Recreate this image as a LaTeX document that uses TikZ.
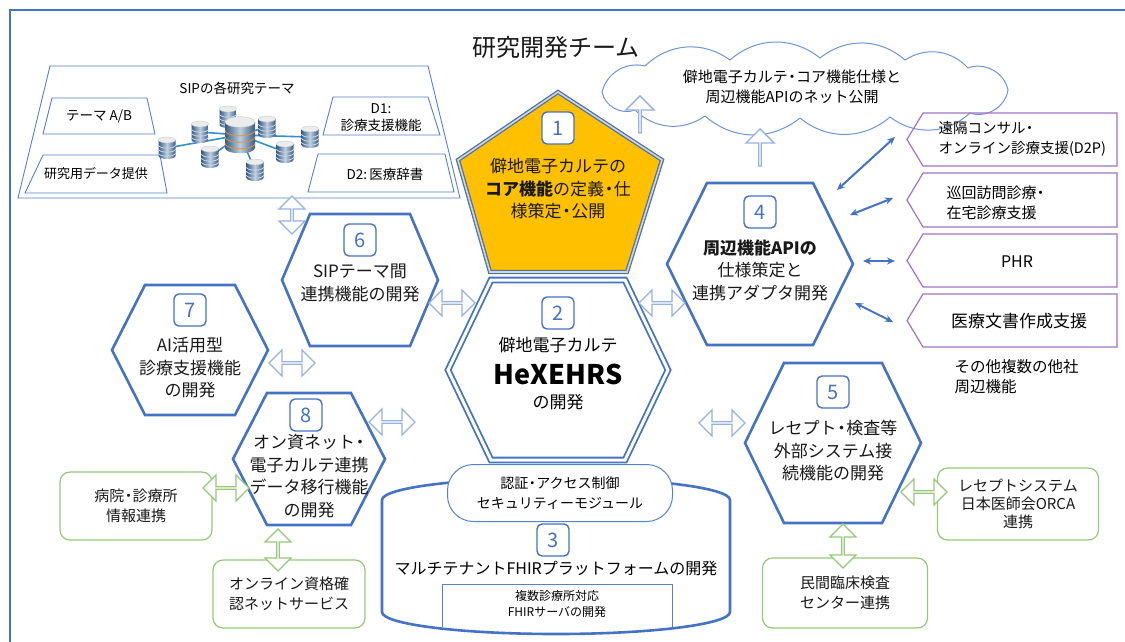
\documentclass[tikz,border=0pt]{standalone}
\usepackage{fontspec}
\setmainfont{Noto Sans CJK JP}
\usetikzlibrary{shapes.geometric, shapes.arrows, arrows.meta, positioning, calc}
\definecolor{hexblue}{RGB}{68, 114, 196}
\definecolor{linkblue}{RGB}{150, 178, 224}
\definecolor{coreorange}{RGB}{255, 192, 0}
\definecolor{corerim}{RGB}{222, 214, 180}
\definecolor{apipurple}{RGB}{160, 115, 200}
\definecolor{extgreen}{RGB}{150, 200, 120}
\definecolor{cloudblue}{RGB}{110, 150, 215}
\definecolor{dbsteel}{RGB}{70, 115, 165}
\definecolor{dbcopper}{RGB}{220, 150, 60}
\definecolor{darktext}{RGB}{25, 25, 25}

\newcommand{\fsz}[2]{\fontsize{#1}{#2}\selectfont}
% narrow middle dot
\newcommand{\nkg}{\kern-0.22em・\kern-0.22em}
% flat-topped hexagon: centre x, centre y, half width, half height, half top edge
\newcommand{\hexa}[6][]{%
  \draw[hexline, #1] ({#2-#6},{#3-#5}) -- ({#2+#6},{#3-#5}) -- ({#2+#4},#3)
    -- ({#2+#6},{#3+#5}) -- ({#2-#6},{#3+#5}) -- ({#2-#4},#3) -- cycle;}
% small database drum: x, y, radius, half height, band colour
\newcommand{\dbcyl}[5]{%
  \shade[left color=dbsteel!80!black, right color=dbsteel!80!black, middle color=dbsteel!35!white]
    ({#1-#3},{#2-#4}) -- ({#1+#3},{#2-#4}) -- ({#1+#3},{#2+#4})
    arc[start angle=0, end angle=180, x radius=#3, y radius=0.35*#3] -- cycle;
  \foreach \k in {-0.35, 0.15, 0.65}
    \draw[#5, line width=0.8pt] ({#1-#3},{#2+\k*#4}) arc[start angle=180, end angle=0, x radius=#3, y radius=0.35*#3];
  \fill[gray!15] (#1,{#2-#4}) ellipse ({#3} and {0.35*#3});
  \draw[gray!50, line width=0.3pt] (#1,{#2-#4}) ellipse ({#3} and {0.35*#3});}

\begin{document}
\begin{tikzpicture}[x=1pt, y=-1pt,
  hexline/.style={draw=hexblue, line width=2.6pt, line join=miter, fill=white},
  sipline/.style={draw=hexblue!90, line width=0.9pt, line join=miter},
  numbox/.style={draw=hexblue, line width=1.4pt, fill=white, rounded corners=5pt,
                 minimum size=32pt, inner sep=0pt, text=hexblue, font=\fsz{20}{20}},
  hextext/.style={align=center, text=darktext, font=\fsz{17}{22.5}},
  linkarrow/.style={double arrow, draw=linkblue, line width=1.3pt, fill=white,
                    minimum height=46pt, minimum width=26pt, double arrow head extend=6pt, inner sep=0pt},
  extarrow/.style={linkarrow, draw=extgreen},
  uparrow/.style={single arrow, draw=linkblue, line width=1.3pt, fill=white, shape border rotate=90,
                  minimum height=37pt, minimum width=28pt, single arrow head extend=7pt, inner sep=0pt},
  extbox/.style={draw=extgreen, line width=1.2pt, rounded corners=10pt, fill=white,
                 align=center, text=darktext, font=\fsz{15}{20}},
  apibox/.style={draw=apipurple, line width=1.2pt, line join=miter},
  apiarrow/.style={draw=hexblue, line width=2pt, {Stealth[length=8pt,width=7pt]}-{Stealth[length=8pt,width=7pt]}},
  dbline/.style={draw=hexblue!80!cyan, line width=1.6pt},
  cloudline/.style={draw=cloudblue, line width=1pt, fill=white}
]
\useasboundingbox (0,0) rectangle (1125,641);
\fill[white] (0,0) rectangle (1125,641);
\draw[hexblue, line width=2.6pt] (10,10) rectangle (1150,670);

\node[font=\fsz{24}{28}, text=darktext] (team) at (556,47) {研究開発チーム};

% SIP research themes
\draw[sipline, fill=white] (50,66) -- (428,66) -- (460,198) -- (18,198) -- cycle;
\node[font=\fsz{13.5}{16}] (sip) at (237,88) {SIPの各研究テーマ};
\draw[sipline] (52,98) -- (147,98) -- (155,134) -- (43,134) -- cycle;
\node[font=\fsz{13.5}{16}] (themeab) at (99,116) {テーマ A/B};
\draw[sipline] (43,155) -- (160,155) -- (167,193) -- (25,193) -- cycle;
\node[font=\fsz{13}{16}] (dataprov) at (96,174) {研究用データ提供};
\draw[sipline] (333,97) -- (428,97) -- (440,135) -- (323,135) -- cycle;
\node[font=\fsz{13.5}{17}, align=center] (dxsupport) at (381,118) {D1:\\診療支援機能};
\draw[sipline] (318,154) -- (445,154) -- (454,192) -- (308,192) -- cycle;
\node[font=\fsz{13.5}{16}] (dict) at (385,174) {D2:\,医療辞書};

% database cluster
\coordinate (dbhub) at (240,135);
\foreach \px/\py in {228/117, 200/132, 167/148, 210/157, 255/170, 267/127, 285/152, 310/137}
  \draw[dbline] (dbhub) -- (\px,\py);
\foreach \px/\py in {228/117, 200/132, 167/148, 210/157, 255/170, 267/127, 285/152, 310/137}
  \dbcyl{\px}{\py}{8.5}{8}{white!70!dbsteel};
\dbcyl{240}{135}{15}{13}{dbcopper}

% publication cloud
\draw[cloudline] (602,92) to[bend left=45] (645,66) to[bend left=40] (730,60) to[bend left=40] (820,58)
  to[bend left=40] (905,60) to[bend left=40] (968,68) to[bend left=50] (1008,90)
  to[bend left=50] (970,113) to[bend left=40] (890,117) to[bend left=40] (800,118)
  to[bend left=40] (705,116) to[bend left=40] (635,110) to[bend left=50] (602,92) -- cycle;
\node[align=center, font=\fsz{15}{20}] (pubtext) at (792,87) {僻地電子カルテ\nkg コア機能仕様と\\周辺機能APIのネット公開};

% 1: core spec
\draw[draw=hexblue, double=corerim, double distance=1.6pt, line width=1.3pt,
      fill=coreorange, line join=miter]
  (558,92) -- (662,160) -- (627,272) -- (490,272) -- (458,160) -- cycle;
\node[numbox] (num1) at (558,128) {1};
\node[hextext] (core) at (558,189) {僻地電子カルテの\\\textbf{コア機能}の定義\nkg 仕\\様策定\nkg 公開};

% 3: FHIR platform
\draw[hexline] (382,612) -- (382,500) arc[start angle=180, end angle=360, x radius=174, y radius=22]
  -- (730,612) arc[start angle=0, end angle=180, x radius=174, y radius=22] -- cycle;
\node[draw=hexblue!90, line width=1pt, fill=white, rounded corners=26pt, minimum width=225pt,
      minimum height=57pt, align=center, font=\fsz{14}{20}] (security) at (560,493)
  {認証\nkg アクセス制御\\セキュリティーモジュール};
\node[numbox] (num3) at (553,540) {3};
\node[font=\fsz{16}{20}] (fhir) at (556,568) {マルチテナントFHIRプラットフォームの開発};
\draw[sipline] (442,627) -- (442,584) -- (672,584) -- (672,627);
\node[font=\fsz{12}{16}, align=center] (fhirsrv) at (557,604) {複数診療所対応\\FHIRサーバの開発};

% 2: HeXEHRS
\hexa[double=white, double distance=3pt, line width=1.8pt]{558}{370}{110}{90}{67}
\node[numbox] (num2) at (558,313) {2};
\node[font=\fsz{17}{20}] (hexname) at (558,345) {僻地電子カルテ};
\node[font=\fsz{27}{30}\bfseries] (hexehrs) at (558,374) {HeXEHRS};
\node[font=\fsz{17}{20}] (hexdev) at (558,402) {の開発};

% 4 to 8
\hexa{360}{280}{78}{66}{50}
\node[numbox] (num6) at (360,240) {6};
\node[hextext] (siplink) at (360,283) {SIPテーマ間\\連携機能の開発};

\hexa{190}{350}{78}{65}{45}
\node[numbox] (num7) at (190,310) {7};
\node[hextext] (aidx) at (190,368) {AI活用型\\診療支援機能\\の開発};

\hexa{309}{459}{76}{66}{42}
\node[numbox] (num8) at (306,415) {8};
\node[hextext] (onshi) at (309,476) {オン資ネット\nkg\\電子カルテ連携\\データ移行機能\\の開発};

\hexa{760}{264}{93}{81}{53}
\node[numbox] (num4) at (760,212) {4};
\node[hextext] (apispec) at (760,270) {\textbf{周辺機能APIの}\\仕様策定と\\連携アダプタ開発};

\hexa{833}{443}{88}{80}{49}
\node[numbox] (num5) at (833,392) {5};
\node[hextext] (extsys) at (833,451) {レセプト\nkg 検査等\\外部システム接\\続機能の開発};

% peripheral functions
\foreach \ya/\yb in {113/166, 173/227, 234/287, 294/347}
  \draw[apibox] (923,\ya) -- (1117,\ya) -- (1117,\yb) -- (923,\yb) -- (907,{(\ya+\yb)/2}) -- cycle;
\node[anchor=west, align=left, font=\fsz{14.5}{20}] (d2p) at (935,139) {遠隔コンサル\nkg\\オンライン診療支援(D2P)};
\node[anchor=west, align=left, font=\fsz{15}{20}] (visit) at (943,203) {巡回訪問診療\nkg\\在宅診療支援};
\node[font=\fsz{16}{20}] (phr) at (1017,262) {PHR};
\node[font=\fsz{17}{20}] (docs) at (1019,321) {医療文書作成支援};
\node[anchor=west, align=left, font=\fsz{15.5}{20}] (others) at (951,377) {その他複数の他社\\周辺機能};

\coordinate (a1) at (837,190); \coordinate (b1) at (895,137);
\coordinate (a2) at (850,215); \coordinate (b2) at (893,198);
\coordinate (a3) at (863,261); \coordinate (b3) at (895,261);
\coordinate (a4) at (855,303); \coordinate (b4) at (893,322);
\draw[apiarrow] (a1) -- (b1);
\draw[apiarrow] (a2) -- (b2);
\draw[apiarrow] (a3) -- (b3);
\draw[apiarrow] (a4) -- (b4);

% external partners
\node[extbox, minimum width=152pt, minimum height=68pt] (hosp) at (136,506) {病院\nkg 診療所\\情報連携};
\node[extbox, minimum width=152pt, minimum height=68pt] (oqs) at (289,594) {オンライン資格確\\認ネットサービス};
\node[extbox, minimum width=161pt, minimum height=72pt, font=\fsz{15}{18}] (orca) at (1018,504) {レセプトシステム\\日本医師会ORCA\\連携};
\node[extbox, minimum width=165pt, minimum height=70pt] (lab) at (845,593) {民間臨床検査\\センター連携};

% block arrows
\node[linkarrow, shape border rotate=90, minimum height=38pt] (lsip) at (292,215) {};
\node[linkarrow] (l62) at (452,303) {};
\node[linkarrow] (l7) at (292,363) {};
\node[linkarrow] (l82) at (392,422) {};
\node[linkarrow] (l24) at (662,303) {};
\node[linkarrow] (l25) at (722,423) {};
\node[extarrow] (e8h) at (226,488) {};
\node[extarrow, shape border rotate=90, minimum height=42pt] (e8o) at (278,550) {};
\node[extarrow] (e5o) at (924,492) {};
\node[extarrow, shape border rotate=90, minimum height=44pt] (e5l) at (843,546) {};
\node[uparrow] (up1) at (640,115) {};
\node[uparrow] (up4) at (760,148) {};
\end{tikzpicture}
\end{document}
